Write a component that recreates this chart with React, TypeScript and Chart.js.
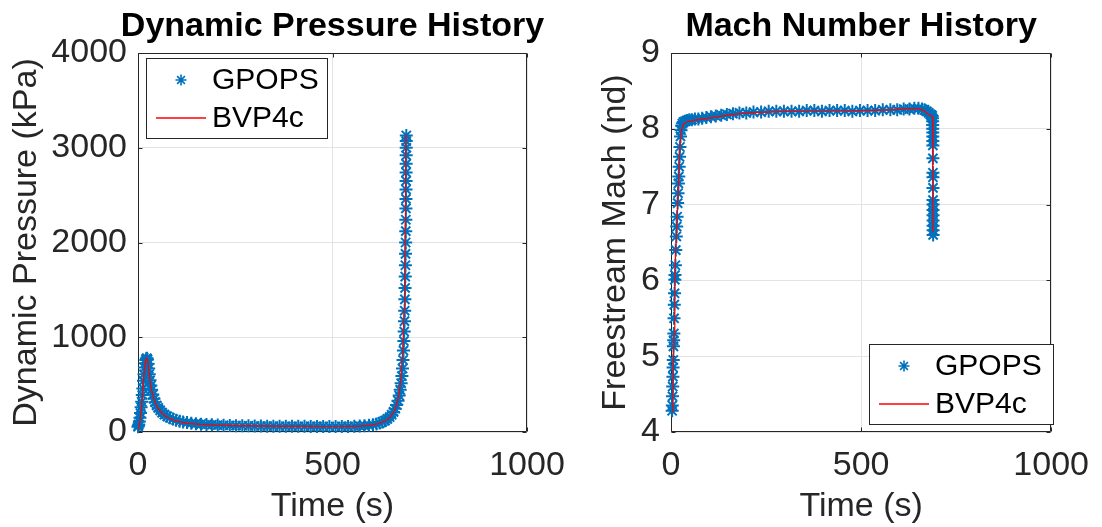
import React, { useEffect, useRef } from "react";
import { Chart, registerables } from "chart.js";

Chart.register(...registerables);

// ---------------- Data ----------------
const timeTicks = [0, 500, 1000];
const pressureTicks = [0, 1000, 2000, 3000, 4000];
const machTicks = [4, 5, 6, 7, 8, 9];

// Dynamic pressure (kPa) — GPOPS collocation points
const gpopsPressureTime = [
  0, 1, 2, 3.5, 5, 6.5, 8, 9.5, 11, 12.5, 14, 15.5, 17, 18.5, 20, 21.5, 23, 24.5, 26, 27.5,
  29, 31, 33, 35, 38, 41, 44, 48, 52, 57, 62, 68, 75, 82, 90, 98, 107, 116, 126, 137,
  149, 162, 176, 190, 205, 220, 236, 252, 268, 284, 300, 316, 332, 348, 364, 380, 396, 412, 428, 444,
  460, 476, 492, 508, 524, 540, 556, 570, 582, 594, 604, 613, 621, 628, 635, 641, 647, 652, 657, 661,
  665, 668.5, 671.5, 674, 676.5, 678.5, 680, 681.3, 682.5, 683.5, 684.3, 685, 685.6, 686.1, 686.6, 687, 687.4, 687.7, 688, 688.3,
  688.5, 688.7, 688.85, 689, 689.1, 689.2, 689.3, 689.4, 689.5, 689.6, 689.7,
];
const gpopsPressure = [
  55, 65, 80, 110, 150, 200, 260, 320, 390, 460, 540, 610, 680, 725, 760, 775, 778, 765, 720, 670,
  610, 545, 490, 445, 395, 350, 315, 280, 255, 228, 205, 183, 165, 150, 136, 125, 114, 106, 99, 93,
  88, 83, 79, 76, 73, 71, 69, 67, 66, 65, 64, 63, 62, 62, 61, 61, 60, 60, 60, 59,
  59, 59, 58, 58, 59, 59, 61, 63, 66, 70, 76, 84, 94, 106, 120, 138, 158, 182, 212, 245,
  285, 330, 385, 445, 515, 590, 670, 760, 860, 960, 1060, 1170, 1280, 1400, 1520, 1640, 1760, 1880, 2000, 2120,
  2240, 2360, 2460, 2560, 2650, 2740, 2830, 2920, 3000, 3070, 3130,
];

// Dynamic pressure (kPa) — BVP4c solution
const bvpPressureTime = [
  0, 2, 5, 8, 11, 14, 17, 20, 22.5, 25, 28, 31, 35, 40, 45, 50, 60, 70, 80, 95,
  110, 130, 160, 200, 250, 300, 350, 400, 450, 500, 540, 570, 600, 620, 640, 650, 660, 667, 672, 676,
  679, 682, 684, 685.5, 687, 688, 689,
];
const bvpPressure = [
  35, 45, 110, 220, 360, 540, 680, 760, 778, 750, 650, 540, 440, 360, 300, 260, 205, 170, 145, 120,
  105, 92, 80, 72, 67, 64, 62, 60, 59, 58, 59, 62, 72, 90, 130, 165, 230, 320, 430, 580,
  760, 1000, 1300, 1700, 2200, 2700, 3140,
];

// Freestream Mach — GPOPS collocation points
const gpopsMachTime = [
  3, 3.5, 4, 4.5, 5, 5.5, 6, 6.5, 7, 7.5, 8, 8.7, 9.3, 10, 10.5, 11.5, 12.5, 14, 15, 16,
  17.5, 18.5, 19.5, 20.5, 21.5, 22.5, 23.5, 25, 26.5, 28, 30, 33, 37, 42, 48, 55, 63, 72, 82, 93,
  105, 118, 132, 147, 163, 180, 198, 217, 237, 257, 277, 297, 317, 337, 357, 377, 397, 417, 437, 457,
  477, 497, 517, 537, 557, 577, 595, 612, 627, 640, 651, 660, 667, 673, 678, 682, 685, 687, 688, 688.2,
  688.3, 688.4, 688.5, 688.6, 688.7, 688.8, 688.9, 689, 689, 689.1, 689.1, 689.2, 689.2, 689.3, 689.3, 689.4, 689.4, 689.5,
];
const gpopsMach = [
  4.28, 4.35, 4.47, 4.6, 4.73, 4.85, 4.95, 5.13, 5.21, 5.3, 5.5, 5.68, 5.83, 6.01, 6.07, 6.2, 6.4, 6.58, 6.71, 6.84,
  7.02, 7.15, 7.28, 7.37, 7.5, 7.63, 7.76, 7.9, 7.98, 8.04, 8.07, 8.09, 8.1, 8.11, 8.12, 8.12, 8.13, 8.13, 8.14, 8.15,
  8.16, 8.17, 8.18, 8.19, 8.2, 8.21, 8.21, 8.22, 8.22, 8.23, 8.23, 8.23, 8.23, 8.23, 8.24, 8.24, 8.23, 8.24, 8.24, 8.24,
  8.23, 8.24, 8.24, 8.24, 8.25, 8.25, 8.25, 8.26, 8.26, 8.27, 8.27, 8.26, 8.25, 8.23, 8.21, 8.19, 8.18, 8.17, 8.14, 8.1,
  8.05, 8.0, 7.95, 7.9, 7.84, 7.78, 7.61, 7.42, 7.36, 7.22, 7.06, 7.0, 6.93, 6.86, 6.79, 6.72, 6.66, 6.6,
];

// Freestream Mach — BVP4c solution
const bvpMachTime = [
  3, 4.5, 6, 8, 10, 12, 15, 18, 21, 24, 27, 32, 40, 60, 100, 150, 200, 250, 300, 400,
  500, 580, 630, 650, 665, 675, 685, 688, 688.5, 689,
];
const bvpMach = [
  4.27, 4.4, 4.8, 5.3, 6.0, 6.35, 6.7, 7.05, 7.5, 7.8, 7.97, 8.06, 8.09, 8.11, 8.14, 8.18, 8.21, 8.22, 8.23, 8.235,
  8.24, 8.25, 8.265, 8.265, 8.24, 8.2, 8.17, 8.16, 7.4, 6.64,
];

// ---------------- Styles ----------------
const BLUE = "#0072BD";
const RED = "#FF0000";
const AXIS = "#262626";
const GRID = "#e3e3e3";
const FONT = '"Liberation Sans", Arial, Helvetica, sans-serif';
const MARKER_R = 6.5;
const MARKER_W = 2;

function drawStar(ctx: CanvasRenderingContext2D, x: number, y: number, r: number) {
  ctx.beginPath();
  for (let k = 0; k < 4; k++) {
    const a = (k * Math.PI) / 4;
    const dx = Math.cos(a) * r;
    const dy = Math.sin(a) * r;
    ctx.moveTo(x - dx, y - dy);
    ctx.lineTo(x + dx, y + dy);
  }
  ctx.stroke();
}

type PanelProps = {
  left: number;
  width: number;
  title: string;
  yLabel: string;
  yTicks: number[];
  gpT: number[];
  gpV: number[];
  bvT: number[];
  bvV: number[];
  padLeft: number;
  padRight: number;
  yAxisWidth: number;
  legendX: number;
  legendY: number;
  legendW: number;
};

function Panel(p: PanelProps) {
  const ref = useRef<HTMLCanvasElement>(null);

  useEffect(() => {
    const canvas = ref.current;
    if (!canvas) return;

    const frame = {
      id: "frame",
      beforeDatasetsDraw(chart: any) {
        const { ctx, chartArea: a } = chart;
        const xs = chart.scales.x;
        const ys = chart.scales.y;
        const L = Math.round(a.left) + 0.5;
        const R = Math.round(a.right) - 0.5;
        const T = Math.round(a.top) + 0.5;
        const B = Math.round(a.bottom) - 0.5;
        const tl = 4;
        ctx.save();
        ctx.strokeStyle = AXIS;
        ctx.lineWidth = 1;
        ctx.beginPath();
        ctx.rect(L, T, R - L, B - T);
        for (const v of timeTicks) {
          const x = Math.round(xs.getPixelForValue(v)) + 0.5;
          ctx.moveTo(x, B);
          ctx.lineTo(x, B - tl);
          ctx.moveTo(x, T);
          ctx.lineTo(x, T + tl);
        }
        for (const v of p.yTicks) {
          const y = Math.round(ys.getPixelForValue(v)) + 0.5;
          ctx.moveTo(L, y);
          ctx.lineTo(L + tl, y);
          ctx.moveTo(R, y);
          ctx.lineTo(R - tl, y);
        }
        ctx.stroke();
        ctx.restore();
      },
      afterDraw(chart: any) {
        const { ctx, chartArea: a } = chart;
        ctx.save();
        // title
        ctx.fillStyle = "#000";
        ctx.font = `bold 34px ${FONT}`;
        ctx.textAlign = "center";
        ctx.textBaseline = "alphabetic";
        ctx.fillText(p.title, (a.left + a.right) / 2, 35.5);
        // legend
        const lx = p.legendX;
        const ly = p.legendY;
        const lw = p.legendW;
        const lh = 81;
        ctx.fillStyle = "#fff";
        ctx.fillRect(lx, ly, lw, lh);
        ctx.strokeStyle = AXIS;
        ctx.lineWidth = 1;
        ctx.strokeRect(lx + 0.5, ly + 0.5, lw - 1, lh - 1);
        ctx.strokeStyle = BLUE;
        ctx.lineWidth = 1.6;
        drawStar(ctx, lx + 35, ly + 22, 5.5);
        ctx.strokeStyle = RED;
        ctx.lineWidth = 1.5;
        ctx.beginPath();
        ctx.moveTo(lx + 10, ly + 60);
        ctx.lineTo(lx + 60, ly + 60);
        ctx.stroke();
        ctx.fillStyle = "#000";
        ctx.font = `30px ${FONT}`;
        ctx.textAlign = "left";
        ctx.textBaseline = "middle";
        ctx.fillText("GPOPS", lx + 66, ly + 23);
        ctx.fillText("BVP4c", lx + 66, ly + 61);
        ctx.restore();
      },
    };

    const chart = new Chart(canvas, {
      type: "scatter",
      data: {
        datasets: [
          {
            label: "BVP4c",
            data: p.bvT.map((t, i) => ({ x: t, y: p.bvV[i] })),
            showLine: true,
            borderColor: RED,
            backgroundColor: RED,
            borderWidth: 1.2,
            pointRadius: 0,
            tension: 0,
            order: 1,
          },
          {
            label: "GPOPS",
            data: p.gpT.map((t, i) => ({ x: t, y: p.gpV[i] })),
            showLine: false,
            pointStyle: "star",
            pointRadius: MARKER_R,
            borderColor: BLUE,
            backgroundColor: BLUE,
            pointBorderColor: BLUE,
            pointBorderWidth: MARKER_W,
            order: 2,
            clip: false,
          } as any,
        ],
      },
      options: {
        responsive: false,
        animation: false,
        devicePixelRatio: 1,
        events: [],
        layout: { padding: { left: p.padLeft, right: p.padRight, top: 53, bottom: 0 } },
        plugins: {
          legend: { display: false },
          title: { display: false },
          tooltip: { enabled: false },
        },
        scales: {
          x: {
            type: "linear",
            position: "bottom",
            min: timeTicks[0],
            max: timeTicks[timeTicks.length - 1],
            afterBuildTicks: (s: any) => {
              s.ticks = timeTicks.map((v) => ({ value: v }));
            },
            afterFit: (s: any) => {
              s.height = 95;
            },
            ticks: {
              font: { family: FONT, size: 34 },
              color: AXIS,
              padding: 13,
              maxRotation: 0,
              autoSkip: false,
              callback: (v: any) => String(v),
            },
            grid: { color: GRID, drawTicks: false, lineWidth: 1 },
            border: { display: false },
            title: {
              display: true,
              text: "Time (s)",
              font: { family: FONT, size: 34 },
              color: AXIS,
              padding: { top: 0, bottom: 0 },
            },
          },
          y: {
            type: "linear",
            position: "left",
            min: p.yTicks[0],
            max: p.yTicks[p.yTicks.length - 1],
            afterBuildTicks: (s: any) => {
              s.ticks = p.yTicks.map((v) => ({ value: v }));
            },
            afterFit: (s: any) => {
              s.width = p.yAxisWidth;
            },
            ticks: {
              font: { family: FONT, size: 34 },
              color: AXIS,
              padding: 11,
              autoSkip: false,
              callback: (v: any) => String(v),
            },
            grid: { color: GRID, drawTicks: false, lineWidth: 1 },
            border: { display: false },
            title: {
              display: true,
              text: p.yLabel,
              font: { family: FONT, size: 34 },
              color: AXIS,
              padding: { top: 6.5, bottom: 0 },
            },
          },
        },
      } as any,
      plugins: [frame],
    });

    return () => {
      chart.destroy();
    };
  }, []);

  return (
    <canvas
      ref={ref}
      width={p.width}
      height={527}
      style={{ position: "absolute", left: p.left, top: 0, width: p.width, height: 527 }}
    />
  );
}

export default function App() {
  return (
    <div
      style={{
        position: "absolute",
        left: 0,
        top: 0,
        width: 1102,
        height: 527,
        background: "#fff",
        overflow: "hidden",
      }}
    >
      <Panel
        left={0}
        width={580}
        title="Dynamic Pressure History"
        yLabel="Dynamic Pressure (kPa)"
        yTicks={pressureTicks}
        gpT={gpopsPressureTime}
        gpV={gpopsPressure}
        bvT={bvpPressureTime}
        bvV={bvpPressure}
        padLeft={0}
        padRight={53}
        yAxisWidth={138}
        legendX={146}
        legendY={58}
        legendW={182}
      />
      <Panel
        left={560}
        width={542}
        title="Mach Number History"
        yLabel="Freestream Mach (nd)"
        yTicks={machTicks}
        gpT={gpopsMachTime}
        gpV={gpopsMach}
        bvT={bvpMachTime}
        bvV={bvpMach}
        padLeft={29}
        padRight={41}
        yAxisWidth={82}
        legendX={309}
        legendY={344}
        legendW={185}
      />
    </div>
  );
}
